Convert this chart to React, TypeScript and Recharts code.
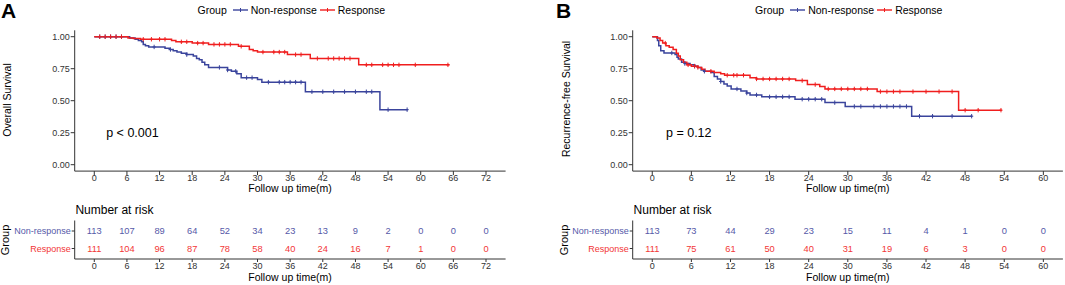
import React from "react";
import { ComposedChart, Line, Scatter, XAxis, YAxis } from "recharts";

const FONT = '"Liberation Sans", Arial, Helvetica, sans-serif';
const BLUE = "#3A449C";
const RED = "#F01E1E";
const BLUE_TXT = "#5659A8";
const RED_TXT = "#F23636";
const AXIS = "#333333";
const TICK_TXT = "#333333";

// panel A - overall survival
const osTicks = [0, 6, 12, 18, 24, 30, 36, 42, 48, 54, 60, 66, 72];
const osNonTimes = [0, 6.5, 7.5, 8.1, 8.7, 9.0, 9.4, 10.0, 13.0, 13.8, 14.5, 15.2, 16.0, 17.0, 18.2, 18.8, 19.3, 19.8, 20.3, 21.0, 24.5, 25.2, 26.2, 27.0, 30.0, 30.8, 38.8, 52.5, 57.6];
const osNonSurv = [1.0, 0.99, 0.98, 0.97, 0.96, 0.94, 0.93, 0.92, 0.91, 0.9, 0.89, 0.88, 0.87, 0.86, 0.85, 0.83, 0.82, 0.8, 0.78, 0.76, 0.74, 0.73, 0.71, 0.68, 0.665, 0.645, 0.57, 0.43, 0.43];
const osNonCensor = [1, 2, 3, 4, 5, 11, 14, 17, 23, 24.5, 26, 28, 29, 32, 34, 35, 36, 37, 38, 40, 42, 44, 46, 48, 50, 51, 54, 57.5];
const osRespTimes = [0, 6.2, 7.2, 8.5, 14.2, 15.0, 18.0, 21.0, 26.5, 28.5, 29.2, 30.0, 35.5, 39.7, 48.6, 65.3];
const osRespSurv = [1.0, 0.99, 0.985, 0.98, 0.97, 0.96, 0.95, 0.94, 0.925, 0.9, 0.89, 0.88, 0.86, 0.83, 0.78, 0.78];
const osRespCensor = [1, 2, 3, 4, 5, 9, 10.5, 12, 13, 16, 17, 19, 20, 22, 23, 24, 25, 27, 31, 33, 34, 35, 37, 38, 41, 43, 44, 45, 46, 47, 50, 51, 53, 54, 55, 56, 59, 65];
const osRiskNon = [113, 107, 89, 64, 52, 34, 23, 13, 9, 2, 0, 0, 0];
const osRiskResp = [111, 104, 96, 87, 78, 58, 40, 24, 16, 7, 1, 0, 0];

// panel B - recurrence-free survival
const rfsTicks = [0, 6, 12, 18, 24, 30, 36, 42, 48, 54, 60];
const rfsNonTimes = [0, 0.8, 1.0, 1.3, 1.8, 3.5, 3.8, 4.0, 4.5, 5.0, 5.8, 6.5, 7.0, 7.5, 7.9, 9.0, 9.5, 10.0, 10.5, 11.0, 11.5, 12.1, 13.6, 14.5, 15.0, 16.8, 21.9, 26.5, 29.6, 39.8, 49.1];
const rfsNonSurv = [1.0, 0.97, 0.93, 0.89, 0.873, 0.86, 0.84, 0.826, 0.8, 0.79, 0.78, 0.77, 0.76, 0.74, 0.73, 0.72, 0.69, 0.67, 0.65, 0.63, 0.615, 0.592, 0.575, 0.56, 0.545, 0.53, 0.512, 0.485, 0.455, 0.379, 0.379];
const rfsNonCensor = [3, 5, 6.5, 8, 10.5, 13, 14.5, 16, 18, 19, 20, 21, 23, 24, 25, 26, 28, 31, 32, 34, 35, 36, 37, 38, 39, 41, 43, 46, 49];
const rfsRespTimes = [0, 0.7, 1.2, 1.6, 2.1, 2.6, 3.2, 3.7, 4.0, 4.3, 4.8, 5.3, 6.0, 7.0, 7.6, 8.1, 9.5, 10.5, 11.1, 15.0, 16.0, 22.0, 23.8, 25.7, 26.5, 34.5, 47.0, 53.6];
const rfsRespSurv = [1.0, 0.99, 0.97, 0.95, 0.93, 0.917, 0.9, 0.87, 0.85, 0.82, 0.8, 0.78, 0.77, 0.76, 0.745, 0.73, 0.72, 0.71, 0.699, 0.68, 0.67, 0.657, 0.626, 0.61, 0.592, 0.571, 0.426, 0.426];
const rfsRespCensor = [2, 5.5, 6.5, 7, 9, 11.5, 12.5, 13, 14, 16, 17, 18, 19, 20, 21, 23, 25, 27, 28, 29, 30, 31, 32, 33, 35, 36, 37, 38, 40, 42, 44, 46, 48, 50, 53.5];
const rfsRiskNon = [113, 73, 44, 29, 23, 15, 11, 4, 1, 0, 0];
const rfsRiskResp = [111, 75, 61, 50, 40, 31, 19, 6, 3, 0, 0];

const survTicks = [0, 0.25, 0.5, 0.75, 1];

const toSteps = (times: number[], surv: number[]) =>
  times.map((t, i) => ({ t, s: surv[i] }));

const survAt = (times: number[], surv: number[], t: number) => {
  let s = surv[0];
  times.forEach((tt, i) => {
    if (tt <= t) s = surv[i];
  });
  return s;
};

const toCensor = (times: number[], surv: number[], cens: number[]) =>
  cens.map((t) => ({ t, s: survAt(times, surv, t) }));

const toRisk = (ticks: number[], counts: number[], row: number) =>
  ticks.map((t, i) => ({ t, r: row, n: counts[i] }));

const Plus = (props: any) => {
  const { cx, cy, color } = props;
  if (cx == null || cy == null) return null;
  return (
    <g stroke={color} strokeWidth={1}>
      <line x1={cx} x2={cx} y1={cy - 2.2} y2={cy + 2.2} />
      <line x1={cx - 1.6} x2={cx + 1.6} y1={cy} y2={cy} />
    </g>
  );
};

const RowTick = (props: any) => {
  const { x, y, payload } = props;
  const isNon = payload.value === 2;
  return (
    <text
      x={x}
      y={y}
      dy="0.355em"
      textAnchor="end"
      fontSize={9}
      fontFamily={FONT}
      fill={isNon ? BLUE_TXT : RED_TXT}
    >
      {isNon ? "Non-response" : "Response"}
    </text>
  );
};

const Txt = ({ x, y, size, children, anchor = "left", color = "#000" }: any) => (
  <div
    style={{
      position: "absolute",
      left: x,
      top: y - size * 0.6,
      height: size * 1.2,
      lineHeight: `${size * 1.2}px`,
      fontSize: size,
      color,
      whiteSpace: "nowrap",
      transform: anchor === "middle" ? "translateX(-50%)" : undefined,
    }}
  >
    {children}
  </div>
);

const Letter = ({ x, children }: any) => (
  <div
    style={{
      position: "absolute",
      left: x,
      top: 0,
      fontSize: 21,
      lineHeight: "21px",
      fontWeight: "bold",
    }}
  >
    {children}
  </div>
);

const VTxt = ({ x, y, size, children }: any) => (
  <div
    style={{
      position: "absolute",
      left: x,
      top: y,
      fontSize: size,
      lineHeight: `${size * 1.2}px`,
      whiteSpace: "nowrap",
      transform: "translate(-50%, -50%) rotate(-90deg)",
    }}
  >
    {children}
  </div>
);

const LegendKey = ({ color }: { color: string }) => (
  <svg width={15} height={10} style={{ display: "block" }}>
    <line x1={0} x2={15} y1={5} y2={5} stroke={color} strokeWidth={1.4} />
    <line x1={7.5} x2={7.5} y1={3} y2={7} stroke={color} strokeWidth={1} />
  </svg>
);

const Legend = ({ x }: { x: number }) => (
  <div
    style={{
      position: "absolute",
      left: x,
      top: 3,
      height: 13,
      display: "flex",
      alignItems: "center",
      fontSize: 10.5,
      whiteSpace: "nowrap",
    }}
  >
    <span style={{ marginRight: 6 }}>Group</span>
    <LegendKey color={BLUE} />
    <span style={{ margin: "0 3px" }}>Non-response</span>
    <LegendKey color={RED} />
    <span style={{ marginLeft: 3 }}>Response</span>
  </div>
);

interface PanelProps {
  left: number;
  width: number;
  plotLeft: number;
  plotRight: number;
  domain: [number, number];
  ticks: number[];
  nonTimes: number[];
  nonSurv: number[];
  nonCensor: number[];
  respTimes: number[];
  respSurv: number[];
  respCensor: number[];
  riskNon: number[];
  riskResp: number[];
}

const Panel = (p: PanelProps) => {
  const yw = 40;
  const margin = {
    right: p.left + p.width - p.plotRight,
    left: p.plotLeft - p.left - yw,
  };
  const xTick = { fontSize: 9, fill: TICK_TXT, fontFamily: FONT };
  return (
    <>
      <div style={{ position: "absolute", left: p.left, top: 0 }}>
        <ComposedChart
          width={p.width}
          height={200}
          margin={{ top: 30.3, right: margin.right, left: margin.left, bottom: 0 }}
        >
          <XAxis
            type="number"
            dataKey="t"
            domain={p.domain}
            ticks={p.ticks}
            interval={0}
            allowDataOverflow
            height={28.9}
            tickSize={4}
            tickMargin={0}
            stroke={AXIS}
            tick={xTick}
          />
          <YAxis
            type="number"
            domain={[-0.05, 1.05]}
            ticks={survTicks}
            interval={0}
            allowDataOverflow
            width={yw}
            tickSize={4}
            tickMargin={1}
            stroke={AXIS}
            tick={xTick}
            tickFormatter={(v: number) => v.toFixed(2)}
          />
          <Line
            data={toSteps(p.nonTimes, p.nonSurv)}
            dataKey="s"
            type="stepAfter"
            stroke={BLUE}
            strokeWidth={1.5}
            dot={false}
            activeDot={false}
            isAnimationActive={false}
          />
          <Line
            data={toSteps(p.respTimes, p.respSurv)}
            dataKey="s"
            type="stepAfter"
            stroke={RED}
            strokeWidth={1.5}
            dot={false}
            activeDot={false}
            isAnimationActive={false}
          />
          <Scatter
            data={toCensor(p.nonTimes, p.nonSurv, p.nonCensor)}
            dataKey="s"
            shape={(sp: any) => <Plus {...sp} color={BLUE} />}
            isAnimationActive={false}
          />
          <Scatter
            data={toCensor(p.respTimes, p.respSurv, p.respCensor)}
            dataKey="s"
            shape={(sp: any) => <Plus {...sp} color={RED} />}
            isAnimationActive={false}
          />
        </ComposedChart>
      </div>
      <div style={{ position: "absolute", left: p.left, top: 200 }}>
        <ComposedChart
          width={p.width}
          height={85}
          margin={{ top: 20.5, right: margin.right, left: margin.left, bottom: 0 }}
        >
          <XAxis
            type="number"
            dataKey="t"
            domain={p.domain}
            ticks={p.ticks}
            interval={0}
            allowDataOverflow
            height={26}
            tickSize={3}
            tickMargin={1}
            stroke={AXIS}
            tick={xTick}
          />
          <YAxis
            type="number"
            domain={[0.4, 2.6]}
            ticks={[1, 2]}
            interval={0}
            allowDataOverflow
            width={yw}
            tickSize={3}
            tickMargin={1}
            stroke={AXIS}
            tick={<RowTick />}
          />
          <Scatter
            data={toRisk(p.ticks, p.riskNon, 2)}
            dataKey="r"
            isAnimationActive={false}
            shape={(sp: any) => (
              <text x={sp.cx} y={sp.cy} dy="0.355em" textAnchor="middle" fontSize={9.3} fontFamily={FONT} fill={BLUE_TXT}>
                {sp.payload.n}
              </text>
            )}
          />
          <Scatter
            data={toRisk(p.ticks, p.riskResp, 1)}
            dataKey="r"
            isAnimationActive={false}
            shape={(sp: any) => (
              <text x={sp.cx} y={sp.cy} dy="0.355em" textAnchor="middle" fontSize={9.3} fontFamily={FONT} fill={RED_TXT}>
                {sp.payload.n}
              </text>
            )}
          />
        </ComposedChart>
      </div>
    </>
  );
};

export default function App() {
  return (
    <div
      style={{
        position: "fixed",
        left: 0,
        top: 0,
        width: 1065,
        height: 285,
        background: "#fff",
        fontFamily: FONT,
        color: "#000",
        overflow: "hidden",
      }}
    >
      <Panel
        left={0}
        width={530}
        plotLeft={74.7}
        plotRight={505.6}
        domain={[-3.6, 75.6]}
        ticks={osTicks}
        nonTimes={osNonTimes}
        nonSurv={osNonSurv}
        nonCensor={osNonCensor}
        respTimes={osRespTimes}
        respSurv={osRespSurv}
        respCensor={osRespCensor}
        riskNon={osRiskNon}
        riskResp={osRiskResp}
      />
      <Panel
        left={530}
        width={535}
        plotLeft={632.7}
        plotRight={1062.9}
        domain={[-3, 63]}
        ticks={rfsTicks}
        nonTimes={rfsNonTimes}
        nonSurv={rfsNonSurv}
        nonCensor={rfsNonCensor}
        respTimes={rfsRespTimes}
        respSurv={rfsRespSurv}
        respCensor={rfsRespCensor}
        riskNon={rfsRiskNon}
        riskResp={rfsRiskResp}
      />

      {/* panel A texts */}
      <Letter x={1}>A</Letter>
      <Legend x={197.6} />
      <VTxt x={7} y={100} size={10.5}>Overall Survival</VTxt>
      <Txt x={106.2} y={133.3} size={12.5}>p &lt; 0.001</Txt>
      <Txt x={290} y={188.5} size={10.5} anchor="middle">Follow up time(m)</Txt>
      <Txt x={75.4} y={210} size={12}>Number at risk</Txt>
      <VTxt x={6} y={240} size={11}>Group</VTxt>
      <Txt x={290} y={277.7} size={10.5} anchor="middle">Follow up time(m)</Txt>

      {/* panel B texts */}
      <Letter x={556}>B</Letter>
      <Legend x={755} />
      <VTxt x={566} y={99} size={10.5}>Recurrence-free Survival</VTxt>
      <VTxt x={565} y={240} size={11}>Group</VTxt>
      <Txt x={666} y={133.3} size={12.5}>p = 0.12</Txt>
      <Txt x={847.8} y={188.5} size={10.5} anchor="middle">Follow up time(m)</Txt>
      <Txt x={633.6} y={210} size={12}>Number at risk</Txt>
      <Txt x={847.8} y={277.7} size={10.5} anchor="middle">Follow up time(m)</Txt>
    </div>
  );
}
